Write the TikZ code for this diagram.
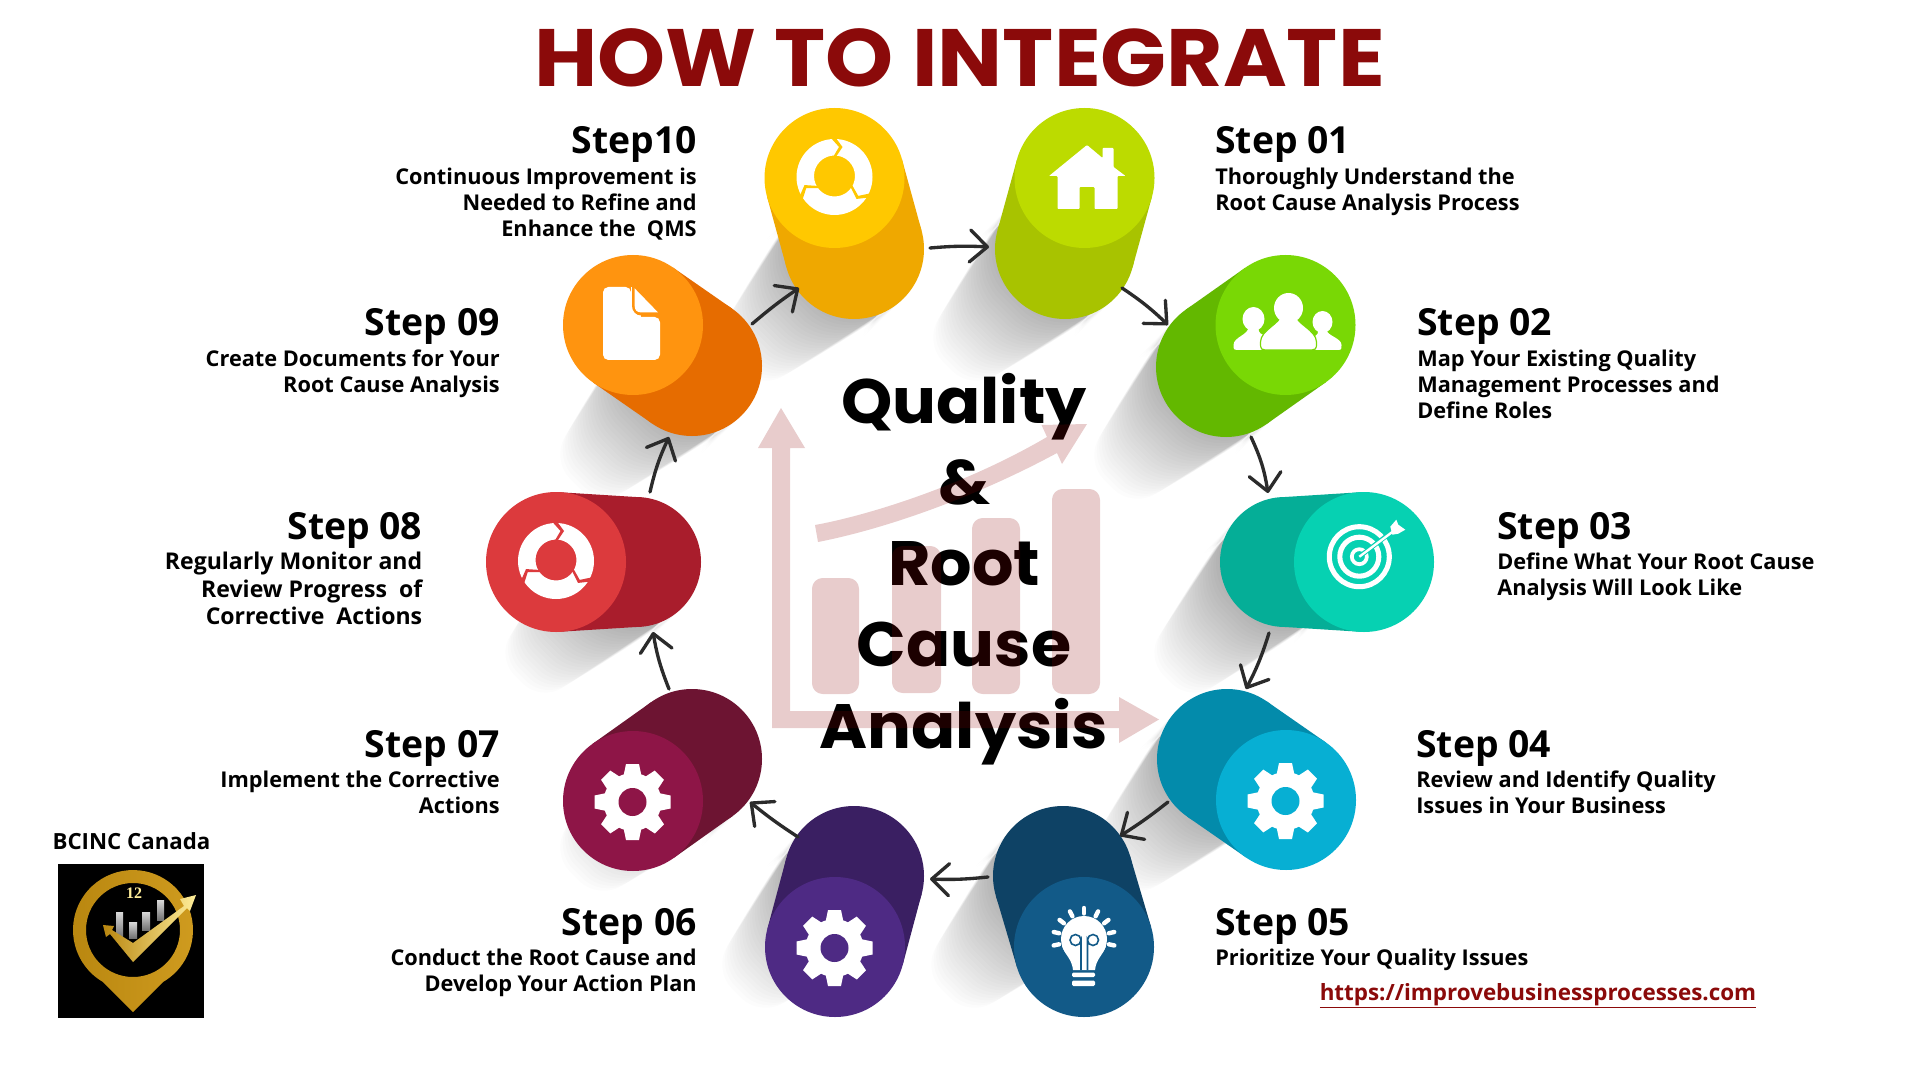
\documentclass[tikz,border=0pt]{standalone}
\usepackage{fontspec}
\setmainfont{Open Sans}
\newfontfamily\popfont{Poppins}[FakeStretch=1.04]
\newfontfamily\titlefont{Poppins}
\newfontfamily\serfont{Liberation Serif}
\usetikzlibrary{calc,arrows.meta,shadings}
\definecolor{titlered}{HTML}{8B0A0A}
\definecolor{chartred}{HTML}{8C0000}
\definecolor{arrowgrey}{HTML}{2B2B2B}
\definecolor{goldA}{HTML}{B8860F}
\definecolor{goldB}{HTML}{FFEE9A}
\definecolor{goldC}{HTML}{D09C20}
\tikzset{
  x=0.75pt,y=-0.75pt,
  conn/.style={draw=arrowgrey,line width=2.5pt,line cap=round,line join=round,
    -{Straight Barb[length=13pt,width=24pt,round]}},
  stephead/.style={font=\fontsize{28}{32}\selectfont\bfseries,inner sep=0pt,text=black},
  stepbody/.style={font=\fontsize{16.3}{19.3}\selectfont\bfseries,inner sep=0pt,text=black},
  bodywest/.style={align=left},
  bodyeast/.style={align=right},
  face/.style={circle,inner sep=0pt,minimum size=105pt},
  chartshape/.style={fill=chartred,opacity=.2},
}
% shadow of a cylinder: id, back radius in px
\newcommand\cylshadow[2]{%
  \begin{scope}[shift={(bp#1)}]
  \foreach \t in {1,...,30}{
    \pgfmathsetmacro\LL{40+4.2*\t}
    \pgfmathsetmacro\rr{#2*(1-0.017*\t)}
    \pgfmathsetmacro\rc{\rr*0.6}
    \pgfmathsetmacro\ax{.707*#2}
    \pgfmathsetmacro\bx{-.707*\LL+.707*\rr}
    \pgfmathsetmacro\by{.707*\LL+.707*\rr}
    \pgfmathsetmacro\cx{-.707*\LL-.707*\rr}
    \pgfmathsetmacro\cy{.707*\LL-.707*\rr}
    \fill[black,opacity=.012,rounded corners=\rc pt]
      (\ax,\ax) -- (\bx,\by) -- (\cx,\cy) -- (-\ax,-\ax) -- cycle;
  }
  \end{scope}}
% cylinder: id, back diameter in pt, face colour, body colour
\newcommand\cylinder[4]{%
  \definecolor{cF#1}{HTML}{#3}\definecolor{cB#1}{HTML}{#4}%
  \node[circle,inner sep=0pt,minimum size=#2pt,fill=cB#1] (b#1) at (bp#1) {};
  \fill[cB#1] ($(fp#1)!52.5pt!90:(bp#1)$) -- ($(bp#1)!#2pt/2!-90:(fp#1)$)
     -- ($(bp#1)!#2pt/2!90:(fp#1)$) -- ($(fp#1)!52.5pt!-90:(bp#1)$) -- cycle;
  \node[face,fill=cF#1] (f#1) at (fp#1) {};}
% step label: [extra style], id, side (west/east), x, heading baseline y, heading, body
\newcommand\steplabel[7][]{%
  \node[stephead,anchor=base #3] (h#2) at (#4,#5+2) {#6};
  \node[stepbody,body#3,anchor=north #3,#1] (t#2) at (#4,#5+14) {\rule{0pt}{14pt}#7};}
\newcommand\gearicon[2]{%
  \begin{scope}[shift={(#1)},shift={(-0.5,1)}]
    \fill[white] (0,0) circle[radius=29];
    \foreach \a in {0,45,...,315}{
      \fill[white,rotate=\a] (-9,-26) -- (-6.5,-38) -- (6.5,-38) -- (9,-26) -- cycle;}
    \fill[#2] (0,0) circle[radius=14];
  \end{scope}}
\newcommand\cycleicon[2]{%
  \begin{scope}[shift={(#1)},shift={(0,-1)}]
    \fill[white,even odd rule] (0,0) circle[radius=38] (0,-1) circle[radius=20.5];
    \foreach \a in {0,120,240}{
      \begin{scope}[rotate=\a]
      \fill[#2] (-4,-39.5) -- (1,-39.5) -- (8,-30) -- (0,-18) -- (-2,-19) -- (4.5,-30) -- cycle;
      \end{scope}}
  \end{scope}}
\begin{document}
\begin{tikzpicture}
\useasboundingbox (0,0) rectangle (1920,1080);
\fill[white] (0,0) rectangle (1920,1080);
% positions
\coordinate (fp1) at (1084.5,178);  \coordinate (bp1) at (1065,249);
\coordinate (fp2) at (1285.5,325);  \coordinate (bp2) at (1226,367);
\coordinate (fp3) at (1364,562);    \coordinate (bp3) at (1285,562);
\coordinate (fp4) at (1286,800);    \coordinate (bp4) at (1227,759);
\coordinate (fp5) at (1084,947);    \coordinate (bp5) at (1063,876);
\coordinate (fp6) at (835,947);     \coordinate (bp6) at (854,876);
\coordinate (fp7) at (633,801);     \coordinate (bp7) at (692,759);
\coordinate (fp8) at (556,562);     \coordinate (bp8) at (636,562);
\coordinate (fp9) at (633,325);     \coordinate (bp9) at (692,366);
\coordinate (fp10) at (834.5,178);  \coordinate (bp10) at (854,249);
% shadows
\foreach \i/\r in {1/70,2/70,3/65,4/70,5/70,6/70,7/70,8/65,9/70,10/70}{\cylshadow{\i}{\r}}
% title
\node[inner sep=0pt,anchor=base,text=titlered] (title) at (959.5,87)
  {\scalebox{1.064}[1]{\fontsize{61}{61}\titlefont\bfseries HOW TO INTEGRATE}};
% centre text
\node[inner sep=0pt,anchor=north,align=center,font=\fontsize{47}{60.9}\popfont\bfseries] (centre) at (964,356.3)
  {\rule{0pt}{50pt}Quality\\ \&\\ Root\\ Cause\\ Analysis};
% chart, over the text
\fill[chartshape] (781,408) -- (805,448) -- (790,448) -- (790,711) -- (1119,711) -- (1119,697)
   -- (1159,719.5) -- (1119,743) -- (1119,728) -- (772,728) -- (772,448) -- (758,448) -- cycle;
\fill[chartshape,rounded corners=8pt] (812,578) rectangle (859,694);
\fill[chartshape,rounded corners=8pt] (892,546) rectangle (941,693);
\fill[chartshape,rounded corners=8pt] (972,518) rectangle (1020,694);
\fill[chartshape,rounded corners=8pt] (1052,489) rectangle (1100,694);
\fill[chartshape] (815,525) .. controls (870,515) and (965,485) .. (1047,437) -- (1041.5,425) -- (1087,424)
   -- (1062,464) -- (1057,453) .. controls (970,500) and (880,530) .. (818,542) -- cycle;
% cylinders
\cylinder{1}{105}{BCDB00}{A8C300}
\cylinder{2}{105}{79D805}{63B800}
\cylinder{3}{97.5}{06D1B2}{05AE97}
\cylinder{4}{105}{07AFD3}{038BAB}
\cylinder{5}{105}{125A88}{0E4265}
\cylinder{6}{105}{4E2A84}{3A1F62}
\cylinder{7}{105}{8E1547}{6D1432}
\cylinder{8}{97.5}{DC3A3D}{A91D2C}
\cylinder{9}{105}{FF940F}{E66C00}
\cylinder{10}{105}{FFC800}{EFA800}
% connectors
\draw[conn] ($(b10)+(76,-1)$) to[bend left=4] ($(b1)+(-76,-2)$);
\draw[conn] ($(b1)+(57,39)$) to[bend left=5] ($(b2)+(-58,-42)$);
\draw[conn] ($(b2)+(25,70)$) to[bend left=8] ($(b3)+(-17,-69)$);
\draw[conn] ($(b3)+(-16,71)$) to[bend left=5] ($(b4)+(19,-70)$);
\draw[conn] ($(b4)+(-59,43)$) to[bend left=3] ($(b5)+(57,-40)$);
\draw[conn] ($(b5)+(-75,1)$) to[bend left=4] ($(b6)+(76,3)$);
\draw[conn] ($(b6)+(-56,-39)$) to[bend left=3] ($(b7)+(58,43)$);
\draw[conn] ($(b7)+(-23,-70)$) to[bend left=6] ($(b8)+(17,70)$);
\draw[conn] ($(b8)+(14,-70)$) to[bend left=6] ($(b9)+(-23,71)$);
\draw[conn] ($(b9)+(60,-42)$) to[bend left=3] ($(b10)+(-55,39)$);
% icons
\cycleicon{f10}{cF10}
\cycleicon{f8}{cF8}
\gearicon{f4}{cF4}
\gearicon{f6}{cF6}
\gearicon{f7}{cF7}
% home
\fill[white,shift={(f1)},rounded corners=.6pt] (-35.5,-2) -- (2.5,-33) -- (18,-20) -- (18,-30) -- (29,-30) -- (29,-11)
  -- (41,-2) -- (33,-2) -- (33,31) -- (10,31) -- (10,9) -- (-5,9) -- (-5,31) -- (-27,31) -- (-27,-2) -- cycle;
% people
\begin{scope}[shift={(f2)}]
  \fill[white] (-32,-6) ellipse[x radius=11,y radius=12];
  \fill[white] (-37,2) .. controls (-37,10) and (-52,12) .. (-52,20) .. controls (-52,25) .. (-45,25)
     -- (-20,25) -- (-22,10) .. controls (-27,8) and (-27,6) .. (-27,2) -- cycle;
  \fill[white] (37,-3) ellipse[x radius=10,y radius=11];
  \fill[white] (33,5) .. controls (33,8) and (32,10) .. (28,12) -- (28,25) -- (50,25) .. controls (56,25) .. (56,20)
     .. controls (56,13) and (42,11) .. (41,5) -- cycle;
  \fill[white,draw=cF2,line width=.9pt] (-5,-10) .. controls (-4,-2) and (-25,5) .. (-25,17) .. controls (-25,25) .. (-15,25)
     -- (21,25) .. controls (31,25) .. (31,17) .. controls (31,5) and (9,-2) .. (11,-10) -- cycle;
  \fill[white] (3,-17) ellipse[x radius=14.5,y radius=15];
\end{scope}
% target
\begin{scope}[shift={(f3)},shift={(-4.7,-5.3)}]
  \draw[white,line width=3.8pt] (0,0) circle[radius=30];
  \draw[white,line width=3.8pt] (0,0) circle[radius=19.5];
  \draw[white,line width=2.8pt] (0,0) circle[radius=7.5];
  \draw[cF3,line width=3.4pt] (0,0) -- (34,-26);
  \draw[white,line width=1.8pt] (0,0) -- (36,-27);
  \fill[white] (31,-30) -- (37,-37) -- (39,-32) -- (46,-27) -- (39,-23) -- (33,-22) -- cycle;
\end{scope}
% bulb
\begin{scope}[shift={(f5)}]
  \fill[white] (0,-8) circle[radius=23];
  \fill[white] (-22,-1) .. controls (-19,8) and (-12,12) .. (-11,23) -- (11,23) .. controls (12,12) and (19,8) .. (22,-1) -- cycle;
  \fill[white,rounded corners=1pt] (-12,25.5) rectangle (11,30);
  \fill[white,rounded corners=1pt] (-12,33.5) rectangle (11,39);
  \foreach \a in {90,63,38,13,-12,117,142,167,192}{
    \draw[white,line width=3.3pt,line cap=round] ($(0,-8)+(\a:25.5 and -25.5)$) -- ($(0,-8)+(\a:31 and -31)$);}
  \draw[cF5,line width=1.2pt] (-3,23) -- (-3,-7) arc[start angle=0,end angle=360,radius=5.5] ;
  \draw[cF5,line width=1.2pt] (3.5,23) -- (3.5,-7) arc[start angle=180,end angle=-180,radius=5.5];
\end{scope}
% document
\begin{scope}[shift={(f9)}]
  \fill[white,rounded corners=4pt] (-30,-38) -- (-2,-38) -- (-2,-8) -- (27,-8) -- (27,35) -- (-30,35) -- cycle;
  \fill[white] (-2,-38) rectangle (8,-8);
  \fill[cF9] (-1,-38.5) -- (-1,-19) .. controls (-1,-14) and (3,-9.5) .. (8,-9.5) -- (28,-9.5) -- (28,-38.5) -- cycle;
  \fill[white] (1.7,-36.6) -- (25,-12.6) -- (8,-12.6) .. controls (4,-12.6) and (1.7,-15) .. (1.7,-19) -- cycle;
\end{scope}
% step labels
\steplabel{1}{west}{1215}{152}{Step 01}{Thoroughly Understand the\\Root Cause Analysis Process}
\steplabel{2}{west}{1417}{334}{Step 02}{Map Your Existing Quality\\Management Processes and\\Define Roles}
\steplabel{3}{west}{1497}{537}{Step 03}{Define What Your Root Cause\\Analysis Will Look Like}
\steplabel{4}{west}{1416}{755}{Step 04}{Review and Identify Quality\\Issues in Your Business}
\steplabel{5}{west}{1215}{933}{Step 05}{Prioritize Your Quality Issues}
\steplabel{6}{east}{697}{933}{Step 06}{Conduct the Root Cause and\\Develop Your Action Plan}
\steplabel{7}{east}{500}{755}{Step 07}{Implement the Corrective\\Actions}
\steplabel[font=\fontsize{17.3}{20.6}\selectfont\bfseries]{8}{east}{422.5}{537}{Step 08}{Regularly Monitor and\\Review Progress~~of\\Corrective~~Actions}
\steplabel{9}{east}{500}{334}{Step 09}{Create Documents for Your\\Root Cause Analysis}
\steplabel{10}{east}{697}{152}{Step10}{Continuous Improvement is\\Needed to Refine and\\Enhance the~~QMS}
% link
\node[inner sep=0pt,anchor=base,text=titlered,font=\fontsize{16.8}{20}\selectfont\bfseries] (link) at (1538,1000)
  {\underline{https://improvebusinessprocesses.com}};
% logo
\node[inner sep=0pt,anchor=base,font=\fontsize{16.7}{20}\selectfont\bfseries] (brand) at (131.5,849) {BCINC Canada};
\fill[black] (58,864) rectangle (204,1018);
\shade[even odd rule,left color=goldA,middle color=goldB,right color=goldC]
  (133,1012) -- (103,982) arc[start angle=120,end angle=420,radius=60] -- cycle
  (133,930) circle[radius=47];
\shade[top color=white!85!black,bottom color=white!45!black] (116,912) rectangle (123,938);
\shade[top color=white!85!black,bottom color=white!45!black] (129,922) rectangle (137,938);
\shade[top color=white!85!black,bottom color=white!45!black] (142,912) rectangle (150,930);
\shade[top color=white!85!black,bottom color=white!45!black] (157,900) rectangle (164,920);
\shade[left color=goldA,right color=goldB]
  (103,925) -- (114,926) -- (112,930) -- (133,943) -- (184,906) -- (180,899) -- (196,895) -- (190,911) -- (187,908) -- (133,962) -- (110,934) -- (106,937) -- cycle;
\node[inner sep=0pt,text=goldB,font=\fontsize{12}{12}\serfont\bfseries] (twelve) at (134,893) {12};
\end{tikzpicture}
\end{document}
